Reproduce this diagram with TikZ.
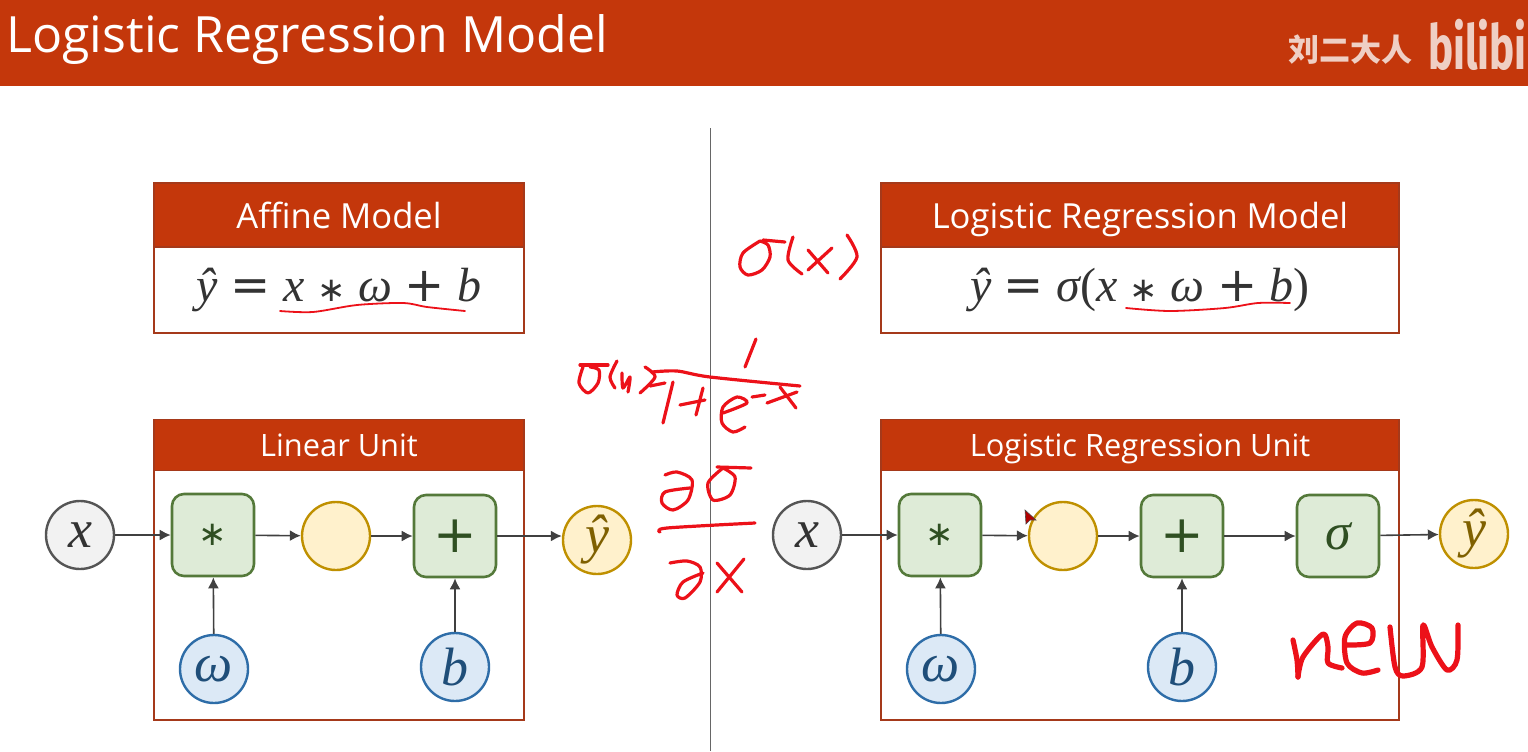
\documentclass[tikz,border=0pt]{standalone}
\usepackage{fontspec}
\setmainfont{Open Sans}
\newfontfamily\cjkfont{Noto Sans CJK SC}
\newfontfamily\logofont{Fira Sans}
\newfontfamily\varfont{Liberation Serif}
\newfontfamily\opfont{DejaVu Sans}
\newcommand{\varsym}[1]{{\varfont\itshape #1}}
\newcommand{\opsym}[1]{{\opfont #1}}
\newcommand{\starsym}{{\opfont\fontsize{17}{17}\selectfont ∗}}
\usepackage{tikz}
\usetikzlibrary{arrows.meta}

\definecolor{headred}{HTML}{C4370B}
\definecolor{boxedge}{HTML}{A5391A}
\definecolor{inout}{HTML}{F2F2F2}
\definecolor{inoutedge}{HTML}{555555}
\definecolor{opfill}{HTML}{DEEBD7}
\definecolor{opedge}{HTML}{54793A}
\definecolor{optext}{HTML}{2F4F22}
\definecolor{hidfill}{HTML}{FFF1CC}
\definecolor{hidedge}{HTML}{BF9000}
\definecolor{hidtext}{HTML}{7F6000}
\definecolor{parfill}{HTML}{DCE9F6}
\definecolor{paredge}{HTML}{2E6DA8}
\definecolor{partext}{HTML}{1F4E79}
\definecolor{logopink}{HTML}{EFCFC4}
\definecolor{inkred}{HTML}{EC1119}

\tikzset{
	headbar/.style={fill=headred, draw=boxedge, line width=0.8pt, text=white, inner sep=0pt, minimum width=185pt},
	tallhead/.style={headbar, minimum height=32pt, text height=15.5pt, text depth=2.5pt, font=\fontsize{17.3}{17.3}\selectfont},
	lowhead/.style={headbar, minimum height=25.5pt, text height=13pt, text depth=2pt, font=\fontsize{15.4}{15.4}\selectfont},
	bodybox/.style={draw=boxedge, line width=1.1pt, inner sep=0pt, minimum width=185pt, text=black!80, font=\fontsize{24}{24}\selectfont},
	invar/.style={draw=inoutedge, line width=1.2pt, circle, minimum size=34pt, inner sep=0pt, fill=inout, text=black!80, font=\fontsize{27}{27}\selectfont},
	outvar/.style={draw=hidedge, line width=1.2pt, circle, minimum size=34pt, inner sep=0pt, fill=hidfill, text=hidtext, font=\fontsize{27}{27}\selectfont},
	parvar/.style={draw=paredge, line width=1.2pt, circle, minimum size=34pt, inner sep=0pt, fill=parfill, text=partext, font=\fontsize{27}{27}\selectfont},
	opbox/.style={draw=opedge, line width=1.3pt, rounded corners=6pt, minimum size=41pt, inner sep=0pt, fill=opfill, text=optext, font=\fontsize{26}{26}\selectfont},
	link/.style={draw=black!75, line width=0.8pt, -{Latex[length=5.5pt,width=5.5pt]}},
	ink/.style={draw=inkred, line width=1.6pt, line cap=round, line join=round},
	inkthin/.style={draw=inkred, line width=0.9pt, line cap=round},
	inkfat/.style={draw=inkred, line width=2.6pt, line cap=round, line join=round},
}

\begin{document}
\begin{tikzpicture}[x=0.5pt, y=-0.5pt]
	\useasboundingbox (0,0) rectangle (1528,751);

	% title bar
	\fill[headred] (0,0) rectangle (1528,86);
	\node[anchor=base west, text=white, font=\fontsize{25}{25}\selectfont, inner sep=0pt] (title) at (6,52) {Logistic Regression Model};
	\node[anchor=west, text=logopink, font=\cjkfont\bfseries\fontsize{15.5}{15.5}\selectfont, inner sep=0pt] (author) at (1288,50) {刘二大人};
	\node[anchor=west, xscale=0.68, text=logopink, font=\logofont\bfseries\fontsize{31}{31}\selectfont, inner sep=0pt] (logo) at (1428,45) {bilibi};

	% divider
	\draw[black!60, line width=0.45pt] (710,128) -- (710,751);

	% left side
	\node[bodybox, minimum height=43pt] (affinebody) at (339,290) {\varsym{ŷ} \opsym{=} \varsym{x} \starsym{} \varsym{ω} \opsym{+} \varsym{b}};
	\node[tallhead] (affinehead) at (339,215) {Affine Model};
	\node[bodybox, minimum height=125pt] (linearbody) at (339,595) {};
	\node[lowhead] (linearhead) at (339,445) {Linear Unit};

	\node[invar] (x1) at (80,535) {\varsym{x}};
	\node[opbox] (mul1) at (213,535) {\starsym};
	\node[outvar] (hid1) at (336,536) {};
	\node[opbox] (add1) at (455,536) {\opsym{+}};
	\node[outvar] (y1) at (597,540) {\varsym{ŷ}};
	\node[parvar] (w1) at (214,669) {\varsym{ω}};
	\node[parvar] (b1) at (455,667) {\varsym{b}};

	\draw[link] (x1) -- (mul1);
	\draw[link] (mul1) -- (hid1);
	\draw[link] (hid1) -- (add1);
	\draw[link] (add1.east) -- (y1.west |- add1.east);
	\draw[link] (w1) -- (mul1);
	\draw[link] (b1) -- (add1);

	% right side
	\node[bodybox, minimum width=259pt, minimum height=43pt] (logitbody) at (1140,290) {\varsym{ŷ} \opsym{=} \varsym{σ}{\varfont(}\varsym{x} \starsym{} \varsym{ω} \opsym{+} \varsym{b}{\varfont)}};
	\node[tallhead, minimum width=259pt] (logithead) at (1140,215) {Logistic Regression Model};
	\node[bodybox, minimum width=259pt, minimum height=125pt] (unitbody) at (1140,595) {};
	\node[lowhead, minimum width=259pt] (unithead) at (1140,445) {Logistic Regression Unit};

	\node[invar] (x2) at (807,535) {\varsym{x}};
	\node[opbox] (mul2) at (940,535) {\starsym};
	\node[outvar] (hid2) at (1063,536) {};
	\node[opbox] (add2) at (1182,536) {\opsym{+}};
	\node[opbox] (sig2) at (1338,536) {\varsym{σ}};
	\node[outvar] (y2) at (1474,534) {\varsym{ŷ}};
	\node[parvar] (w2) at (941,669) {\varsym{ω}};
	\node[parvar] (b2) at (1182,667) {\varsym{b}};

	\draw[link] (x2) -- (mul2);
	\draw[link] (mul2) -- (hid2);
	\draw[link] (hid2) -- (add2);
	\draw[link] (add2) -- (sig2);
	\draw[link] (sig2) -- (y2);
	\draw[link] (w2) -- (mul2);
	\draw[link] (b2) -- (add2);

	% pointer
	\fill[red!70!black, draw=black!70, line width=0.3pt] (1025,510) -- (1036,520) -- (1030,520) -- (1026,524) -- cycle;

	% underlines
	\draw[inkthin] plot[smooth] coordinates {(280,311) (313,312) (357,305) (403,303) (427,307) (465,311)};
	\draw[inkthin] plot[smooth] coordinates {(1126,308) (1170,311) (1225,308) (1258,303) (1290,303)};

	% sigma(x) above right box
	\draw[ink] plot[smooth] coordinates {(760,241) (743,253) (740,267) (748,275) (762,270) (770,257) (768,245) (760,241)};
	\draw[ink] (763,240) -- (785,242);
	\draw[ink] plot[smooth] coordinates {(793,237) (788,260) (802,274)};
	\draw[ink] (808,250) -- (828,273);
	\draw[ink] (832,248) -- (808,270);
	\draw[ink] plot[smooth] coordinates {(847,235) (857,257) (840,279)};

	% sigma formula
	\draw[ink] (580,365) -- (608,365);
	\draw[ink] plot[smooth] coordinates {(583,367) (579,383) (588,393) (598,383) (599,370) (590,367)};
	\draw[ink] plot[smooth] coordinates {(617,361) (610,377) (615,388)};
	\draw[ink] plot[smooth] coordinates {(622,373) (623,388) (630,377) (628,392)};
	\draw[ink] plot[smooth] coordinates {(645,367) (655,377) (640,393)};
	\draw[ink] plot[smooth] coordinates {(652,372) (677,371) (710,377) (800,386)};
	\draw[ink] (650,386) -- (665,383);
	\draw[ink] (756,339) -- (745,367);
	\draw[ink] (673,382) -- (663,423);
	\draw[ink] (680,405) -- (705,400);
	\draw[ink] (703,388) -- (696,415);
	\draw[ink] plot[smooth] coordinates {(723,413) (747,403) (737,397) (723,407) (722,423) (733,432) (745,427)};
	\draw[ink] (752,397) -- (765,395);
	\draw[ink] (767,403) -- (797,392);
	\draw[ink] (780,387) -- (796,408);

	% derivative
	\draw[ink] plot[smooth] coordinates {(665,475) (677,472) (692,480) (688,500) (673,510) (662,503) (665,492) (690,488)};
	\draw[ink] plot[smooth] coordinates {(723,468) (708,483) (713,500) (730,495) (735,477) (723,468)};
	\draw[ink] (717,467) -- (751,468);
	\draw[ink] plot[smooth] coordinates {(660,532) (667,528) (755,523)};
	\draw[ink] plot[smooth] coordinates {(670,563) (687,561) (700,567) (700,582) (685,598) (677,595) (683,582) (703,573)};
	\draw[ink] (717,563) -- (742,592);
	\draw[ink] (744,559) -- (717,592);

	% new
	\draw[inkfat] plot[smooth] coordinates {(1293,640) (1297,660) (1298,677)};
	\draw[inkfat] plot[smooth] coordinates {(1298,677) (1303,657) (1323,634) (1328,647) (1328,663) (1342,668)};
	\draw[inkfat] plot[smooth] coordinates {(1346,645) (1370,643) (1372,628) (1357,623) (1345,637) (1347,663) (1362,673) (1378,670)};
	\draw[inkfat] plot[smooth] coordinates {(1390,627) (1395,667) (1403,676) (1422,667) (1423,625) (1432,647) (1447,670) (1457,660) (1458,625)};
\end{tikzpicture}
\end{document}
